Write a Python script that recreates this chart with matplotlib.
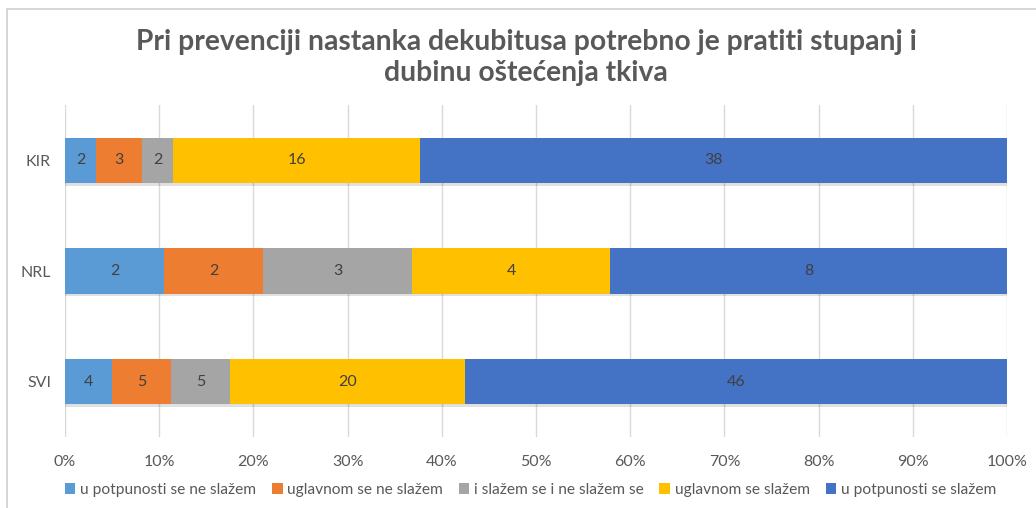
import matplotlib.pyplot as plt
import numpy as np
from matplotlib.patches import Rectangle

categories = ["SVI", "NRL", "KIR"]
series_names = ["u potpunosti se ne slažem", "uglavnom se ne slažem",
                "i slažem se i ne slažem se", "uglavnom se slažem",
                "u potpunosti se slažem"]
values = {
    "u potpunosti se ne slažem": [4, 2, 2],
    "uglavnom se ne slažem": [5, 2, 3],
    "i slažem se i ne slažem se": [5, 3, 2],
    "uglavnom se slažem": [20, 4, 16],
    "u potpunosti se slažem": [46, 8, 38],
}
colors = ["#5B9BD5", "#ED7D31", "#A5A5A5", "#FFC000", "#4472C4"]
xticks = np.arange(0, 1.01, 0.1)
xtick_labels = ["0%", "10%", "20%", "30%", "40%", "50%", "60%", "70%", "80%", "90%", "100%"]

plt.rcParams['font.family'] = ['Lato', 'DejaVu Sans']

fig = plt.figure(figsize=(10.36, 5.08), dpi=100)
fig.patches.append(Rectangle((7/1036, -0.1), 1.2, 1 - 9.5/508 + 0.1,
                             transform=fig.transFigure, fill=False,
                             edgecolor="#D0D0D0", linewidth=1.2))
ax = fig.add_axes([65/1036, 1 - 437/508, 942/1036, 332/508])

totals = np.sum([values[s] for s in series_names], axis=0)
y = np.arange(len(categories))
left = np.zeros(len(categories))
h = 0.41
for name, c in zip(series_names, colors):
    v = np.array(values[name], dtype=float)
    frac = v / totals
    # soft shadow
    ax.barh(y - 0.025, frac, h, left=left, color="#000000", alpha=0.12,
            linewidth=0, zorder=2)
    ax.barh(y, frac, h, left=left, color=c, linewidth=0, zorder=3, label=name)
    for yi, l, f, val in zip(y, left, frac, values[name]):
        ax.text(l + f / 2, yi, str(val), ha="center", va="center",
                fontsize=11.5, color="#404040", zorder=4)
    left += frac

ax.set_xlim(0, 1)
ax.set_ylim(-0.5, 2.5)
ax.set_yticks(y)
ax.set_yticklabels(categories, fontsize=11.5, color="#595959")
ax.set_xticks(xticks)
ax.set_xticklabels(xtick_labels, fontsize=11.5, color="#595959")
ax.tick_params(length=0)
ax.tick_params(axis="x", pad=13)
ax.tick_params(axis="y", pad=10)
ax.grid(axis="x", color="#D9D9D9", linewidth=1, zorder=0)
ax.set_axisbelow(True)
for s in ax.spines.values():
    s.set_visible(False)

fig.text(0.508, 1 - 42/508, "Pri prevenciji nastanka dekubitusa potrebno je pratiti stupanj i",
         ha="center", va="center", fontsize=20.3, fontweight="bold", color="#595959")
fig.text(0.508, 1 - 73/508, "dubinu oštećenja tkiva",
         ha="center", va="center", fontsize=20.3, fontweight="bold", color="#595959")

handles, labels = ax.get_legend_handles_labels()
fig.legend(handles, labels, loc="center", bbox_to_anchor=(0.512, 1 - 490/508),
           ncol=5, frameon=False, fontsize=11.2, labelcolor="#595959",
           handlelength=0.7, handleheight=0.7, handletextpad=0.3, columnspacing=1.0)

plt.savefig("out.png", dpi=100)
